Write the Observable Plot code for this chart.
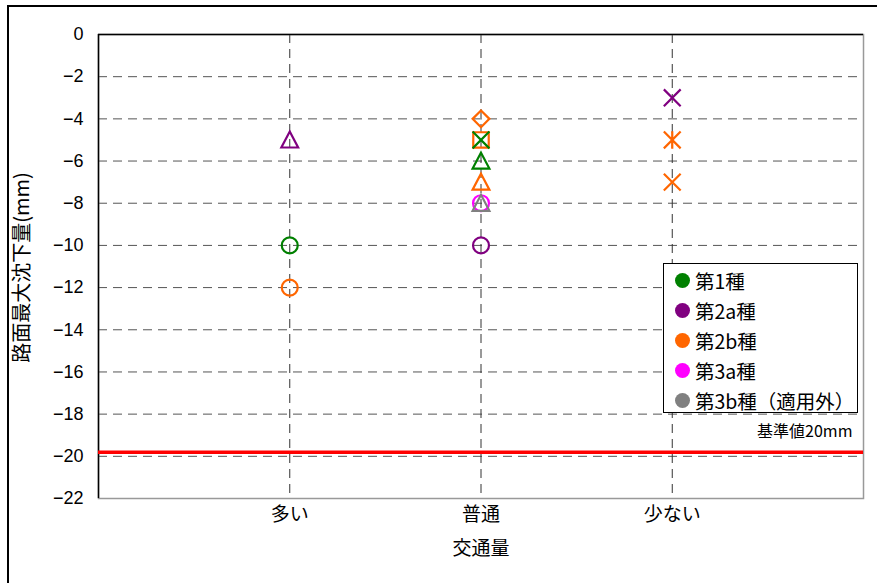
<!DOCTYPE html>
<html lang="ja">
<head>
<meta charset="utf-8">
<script src="https://cdn.jsdelivr.net/npm/d3@7"></script>
<script src="https://cdn.jsdelivr.net/npm/@observablehq/plot@0.6"></script>
<style>
  body { margin: 0; background: #fff; }
  #wrap { position: relative; width: 877px; height: 583px; overflow: hidden;
          font-family: "Liberation Sans", "Noto Sans CJK JP", sans-serif; }
  #outer { position: absolute; left: 7px; top: 5px; width: 900px; height: 600px;
           border-left: 2px solid #000; border-top: 2px solid #000; }
  #chart { position: absolute; left: 0; top: 0; }
  #legend { position: absolute; left: 663px; top: 263px; width: 195px; height: 150px;
            box-sizing: border-box; border: 1px solid #000; background: #fff;
            padding-top: 2px; font-family: "Noto Sans CJK JP", sans-serif; font-size: 19.5px; color: #000; }
  .row { display: flex; align-items: center; height: 29.8px; }
  .sw { width: 15px; height: 15px; border-radius: 50%; margin-left: 11px; margin-right: 5px; flex: none; }
</style>
</head>
<body>
<div id="wrap">
  <div id="outer"></div>
  <div id="chart"></div>
  <div id="legend"></div>
</div>
<script>
// 交通量の区分（横軸）
const categories = ["多い", "普通", "少ない"];
// 種別と色
const groups = ["第1種", "第2a種", "第2b種", "第3a種", "第3b種（適用外）"];
const groupColors = ["#008000", "#800080", "#ff6600", "#ff00ff", "#808080"];
// 縦軸の目盛
const yTicks = [0, -2, -4, -6, -8, -10, -12, -14, -16, -18, -20, -22];
const yLabel = "路面最大沈下量(mm)";
const xLabel = "交通量";
// 基準値
const limitValue = -20;
const limitLabel = "基準値20mm";

// 測定点
const pointTraffic = ["多い", "多い", "多い", "普通", "普通", "普通", "普通", "普通", "普通", "普通", "普通", "少ない", "少ない", "少ない"];
const pointValue   = [-5, -10, -12, -4, -5, -5, -6, -7, -8, -8, -10, -3, -5, -7];
const pointGroup   = ["第2a種", "第1種", "第2b種", "第2b種", "第2b種", "第1種", "第1種", "第2b種", "第3a種", "第3b種（適用外）", "第2a種", "第2a種", "第2b種", "第2b種"];
const pointMarker  = ["tri", "ring", "ring", "rhombus", "box", "xmark", "tri", "tri", "ring", "tri", "ring", "xmark", "xstar", "xmark"];

const points = pointTraffic.map((t, i) => ({
  x: categories.indexOf(t) + 1,
  value: pointValue[i],
  group: pointGroup[i],
  marker: pointMarker[i]
}));

// 白抜きマーカーの形
const rOf = size => Math.sqrt(size / Math.PI);
const shapes = {
  ring: { draw(c, s) { const r = rOf(s) * 0.95; c.moveTo(r, 0); c.arc(0, 0, r, 0, 2 * Math.PI); c.closePath(); } },
  tri: { draw(c, s) { const r = rOf(s); c.moveTo(0, -r); c.lineTo(r, r * 0.9); c.lineTo(-r, r * 0.9); c.closePath(); } },
  rhombus: { draw(c, s) { const r = rOf(s); c.moveTo(0, -r); c.lineTo(r, 0); c.lineTo(0, r); c.lineTo(-r, 0); c.closePath(); } },
  box: { draw(c, s) { const r = rOf(s) * 0.92; c.moveTo(-r, -r); c.lineTo(r, -r); c.lineTo(r, r); c.lineTo(-r, r); c.closePath(); } },
  xmark: { draw(c, s) { const r = rOf(s) * 1.0; c.moveTo(-r, -r); c.lineTo(r, r); c.moveTo(r, -r); c.lineTo(-r, r); } },
  xstar: { draw(c, s) { const r = rOf(s) * 1.0; c.moveTo(-r, -r); c.lineTo(r, r); c.moveTo(r, -r); c.lineTo(-r, r); c.moveTo(0, -r * 1.05); c.lineTo(0, r * 1.05); } }
};
const markerNames = Object.keys(shapes);

const gridStyle = { stroke: "#555", strokeOpacity: 1, strokeWidth: 1, strokeDasharray: "9,6" };

const chart = Plot.plot({
  width: 877,
  height: 583,
  marginLeft: 98,
  marginRight: 14,
  marginTop: 34,
  marginBottom: 85,
  style: { fontFamily: "'Liberation Sans', 'Noto Sans CJK JP', sans-serif", color: "#000", background: "transparent" },
  x: { domain: [0, categories.length + 1] },
  y: { domain: [-22, 0] },
  color: { domain: groups, range: groupColors },
  symbol: { type: "ordinal", domain: markerNames, range: markerNames.map(n => shapes[n]) },
  marks: [
    Plot.gridY(yTicks.filter(v => v !== 0 && v !== -22), gridStyle),
    Plot.gridX(categories.map((_, i) => i + 1), { ...gridStyle, stroke: "#333" }),
    Plot.frame({ stroke: "#999", strokeWidth: 1.5 }),
    Plot.ruleY([0], { stroke: "#000", strokeWidth: 1.5 }),
    Plot.ruleX([0], { stroke: "#000", strokeWidth: 1.5 }),
    Plot.ruleY([limitValue], { stroke: "#ff0000", strokeWidth: 3.5, dy: -4 }),
    Plot.text([limitLabel], { frameAnchor: "right", y: [limitValue], dx: -11, dy: -24, textAnchor: "end",
      fontSize: 16, fontFamily: "Noto Sans CJK JP", fill: "#000" }),
    Plot.axisY({ ticks: yTicks, tickSize: 0, tickPadding: 15, fontSize: 18, tickFormat: d => d === 0 ? "0" : "−" + Math.abs(d), label: null }),
    Plot.axisX({ ticks: categories.map((_, i) => i + 1), tickFormat: i => categories[i - 1], tickSize: 0, tickPadding: 9,
      fontSize: 19, fontFamily: "Noto Sans CJK JP", label: null }),
    Plot.text([xLabel], { frameAnchor: "bottom", dy: 56, fontSize: 19, fontFamily: "Noto Sans CJK JP", fill: "#000" }),
    Plot.text([yLabel], { frameAnchor: "left", dx: -76, dy: 1, rotate: -90, textAnchor: "middle", fontSize: 20, fontFamily: "Noto Sans CJK JP", fill: "#000" }),
    Plot.dot(points, { x: "x", y: "value", stroke: "group", symbol: "marker", fill: "none", r: 8.4, strokeWidth: 2.2 })
  ]
});
document.getElementById("chart").appendChild(chart);

// 凡例
const legend = document.getElementById("legend");
groups.forEach((g, i) => {
  const row = document.createElement("div");
  row.className = "row";
  const sw = document.createElement("span");
  sw.className = "sw";
  sw.style.background = groupColors[i];
  const label = document.createElement("span");
  label.textContent = g;
  row.appendChild(sw);
  row.appendChild(label);
  legend.appendChild(row);
});
</script>
</body>
</html>
